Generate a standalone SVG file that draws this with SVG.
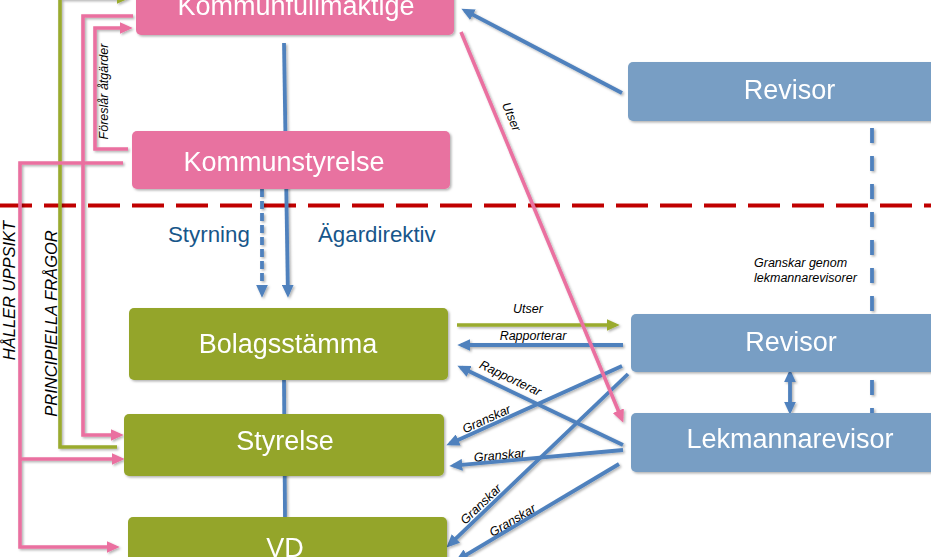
<svg xmlns="http://www.w3.org/2000/svg" width="931" height="557" viewBox="0 0 931 557">
<style>
.n{stroke:none}
.pk{fill:#E872A0}
.gr{fill:#94A52B}
.bl{fill:#789EC4}
.nt{font-family:"Liberation Sans",Arial,sans-serif;font-size:27px;fill:#fff;text-anchor:middle}
.lb{font-family:"Liberation Sans",Arial,sans-serif;font-size:12.5px;font-style:italic;fill:#000}
.side{font-family:"Liberation Sans",Arial,sans-serif;font-size:16.5px;font-style:italic;fill:#000;text-anchor:middle}
.big{font-family:"Liberation Sans",Arial,sans-serif;font-size:22.3px;fill:#17568A}
.cb{fill:none;stroke:#4F81BD;stroke-width:3.8}
.cp{fill:none;stroke:#EA70A0;stroke-width:3.6}
.cg{fill:none;stroke:#9AAB2E;stroke-width:3.6}
</style>
<defs>
<filter id="sh" x="-20%" y="-20%" width="140%" height="140%">
<feDropShadow dx="1.5" dy="1.5" stdDeviation="1" flood-color="#000" flood-opacity="0.3"/>
</filter>
<marker id="ab" viewBox="0 0 13 12" markerWidth="13" markerHeight="12" refX="8.8" refY="6" orient="auto-start-reverse" markerUnits="userSpaceOnUse"><path d="M0,0 L13,6 L0,12 z" fill="#4F81BD"/></marker>
<marker id="ap" viewBox="0 0 13 12" markerWidth="13" markerHeight="12" refX="8.8" refY="6" orient="auto" markerUnits="userSpaceOnUse"><path d="M0,0 L13,6 L0,12 z" fill="#EA70A0"/></marker>
<marker id="ag" viewBox="0 0 13 12" markerWidth="13" markerHeight="12" refX="8.8" refY="6" orient="auto" markerUnits="userSpaceOnUse"><path d="M0,0 L13,6 L0,12 z" fill="#9AAB2E"/></marker>
</defs>
<rect width="931" height="557" fill="#fff"/>

<line x1="0" y1="205.5" x2="931" y2="205.5" stroke="#C00000" stroke-width="4" stroke-dasharray="32 12"/>

<g id="connectors" filter="url(#sh)">
<path class="cb" d="M284,43 L287.9,293.5" marker-end="url(#ab)"/>
<path class="cb" d="M262,189 L262,293.5" stroke-dasharray="8 4" marker-end="url(#ab)"/>
<path class="cb" d="M284,380 L285,517"/>
<path class="cb" d="M622,93 L465.1,10.6" marker-end="url(#ab)"/>
<path class="cb" d="M623,345 L461.5,345" marker-end="url(#ab)"/>
<path class="cb" d="M623,445 L461.2,367.5" marker-end="url(#ab)"/>
<path class="cb" d="M622,366 L450.2,443.6" marker-end="url(#ab)"/>
<path class="cb" d="M623,450 L453.5,465.7" marker-end="url(#ab)"/>
<path class="cb" d="M628,374 L449.5,544.6" marker-end="url(#ab)"/>
<path class="cb" d="M619,464 L459,559.2" marker-end="url(#ab)"/>
<path class="cb" d="M790,373.5 L790,410.5" marker-start="url(#ab)" marker-end="url(#ab)"/>
<path class="cb" d="M872,128 L872,413" stroke-dasharray="15 13"/>
<path class="cg" d="M457,325 L615.5,325" marker-end="url(#ag)"/>
<path class="cg" d="M117,447 L60,447 L60,-2 L125.5,-2" marker-end="url(#ag)"/>
<path class="cp" d="M128,149 L95,149 L95,28 L128.5,28" marker-end="url(#ap)"/>
<path class="cp" d="M133,16 L83,16 L83,435 L119.5,435" marker-end="url(#ap)"/>
<path class="cp" d="M123,163 L20,163 L20,547 L115.5,547" marker-end="url(#ap)"/>
<path class="cp" d="M20,459 L120.5,459" marker-end="url(#ap)"/>
<path class="cp" d="M461,32 L621.7,418.8" marker-end="url(#ap)"/>
</g>

<g id="labels">
<text class="lb" text-anchor="middle" x="528" y="313">Utser</text>
<text class="lb" text-anchor="middle" x="533" y="340">Rapporterar</text>
<text class="lb" text-anchor="middle" transform="rotate(25.6 508.6 382)" x="508.6" y="382">Rapporterar</text>
<text class="lb" text-anchor="middle" transform="rotate(-24.3 488.1 422.8)" x="488.1" y="422.8">Granskar</text>
<text class="lb" text-anchor="middle" transform="rotate(-5.3 499.9 459.4)" x="499.9" y="459.4">Granskar</text>
<text class="lb" text-anchor="middle" transform="rotate(-43.7 483.8 507.2)" x="483.8" y="507.2">Granskar</text>
<text class="lb" text-anchor="middle" transform="rotate(-30.6 514.7 523.8)" x="514.7" y="523.8">Granskar</text>
<text class="lb" text-anchor="middle" transform="rotate(67.4 507.6 118.4)" x="507.6" y="118.4">Utser</text>
<text class="lb" x="754" y="266.5">Granskar genom</text>
<text class="lb" x="754" y="281.5">lekmannarevisorer</text>
<text class="lb" text-anchor="middle" transform="rotate(-90 107.5 91.5)" x="107.5" y="91.5">Föreslår åtgärder</text>
<text class="side" transform="rotate(-90 57 323.5)" x="57" y="323.5">PRINCIPIELLA FRÅGOR</text>
<text class="side" transform="rotate(-90 15 290.5)" x="15" y="290.5">HÅLLER UPPSIKT</text>
<text class="big" x="168" y="241.7">Styrning</text>
<text class="big" x="318" y="241.7">Ägardirektiv</text>
</g>

<g id="kommunfullmaktige" filter="url(#sh)">
<rect class="pk" x="136" y="-23" width="318" height="58" rx="5"/>
<text class="nt" x="296" y="15">Kommunfullmäktige</text>
</g>
<g id="kommunstyrelse" filter="url(#sh)">
<rect class="pk" x="132" y="131" width="318" height="58" rx="5"/>
<text class="nt" x="284" y="171">Kommunstyrelse</text>
</g>
<g id="bolagsstamma" filter="url(#sh)">
<rect class="gr" x="129" y="308" width="319" height="72" rx="5"/>
<text class="nt" x="288" y="353">Bolagsstämma</text>
</g>
<g id="styrelse" filter="url(#sh)">
<rect class="gr" x="124" y="414" width="320" height="62" rx="5"/>
<text class="nt" x="285" y="450">Styrelse</text>
</g>
<g id="vd" filter="url(#sh)">
<rect class="gr" x="128" y="517" width="319" height="62" rx="5"/>
<text class="nt" x="285" y="557">VD</text>
</g>
<g id="revisor-kommun" filter="url(#sh)">
<rect class="bl" x="628" y="62" width="324" height="59" rx="5"/>
<text class="nt" x="789.5" y="98.7">Revisor</text>
</g>
<g id="revisor-bolag" filter="url(#sh)">
<rect class="bl" x="631" y="314" width="324" height="58" rx="5"/>
<text class="nt" x="791" y="351">Revisor</text>
</g>
<g id="lekmannarevisor" filter="url(#sh)">
<rect class="bl" x="631" y="413" width="324" height="59" rx="5"/>
<text class="nt" x="790" y="448">Lekmannarevisor</text>
</g>
</svg>
